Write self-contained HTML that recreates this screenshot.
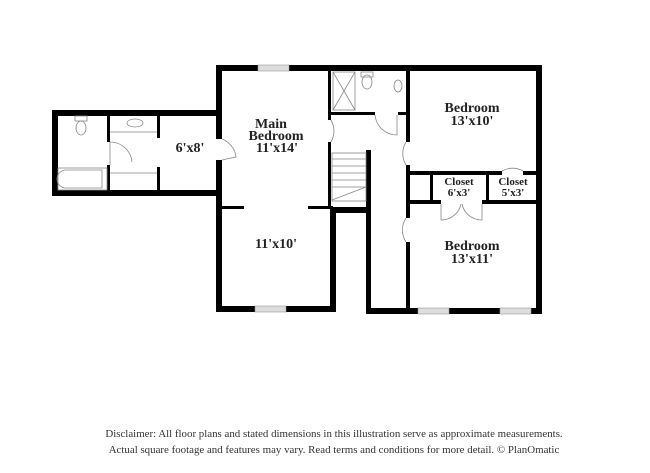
<!DOCTYPE html>
<html><head><style>
body{margin:0;background:#fff;}
svg{display:block}
text{font-family:"Liberation Serif",serif;font-weight:bold;fill:#222;text-anchor:middle}
.f{font-weight:normal;font-size:10.9px;fill:#333}
</style></head><body>
<svg width="650" height="473" viewBox="0 0 650 473" xmlns="http://www.w3.org/2000/svg">
<g fill="#000">
<rect x="52" y="110" width="170" height="6"/>
<rect x="52" y="190" width="170" height="6"/>
<rect x="52" y="110" width="6" height="86"/>
<rect x="107" y="113" width="3" height="29"/>
<rect x="107" y="165" width="3" height="28"/>
<rect x="157" y="113" width="3" height="25"/>
<rect x="157" y="167" width="3" height="26"/>
<rect x="216" y="65" width="326" height="6"/>
<rect x="216" y="65" width="6" height="74"/>
<rect x="216" y="160" width="6" height="152"/>
<rect x="216" y="306" width="120" height="6"/>
<rect x="216" y="206" width="28" height="3"/>
<rect x="308" y="206" width="25" height="3"/>
<rect x="328" y="65" width="3" height="55"/>
<rect x="328" y="142" width="3" height="66"/>
<rect x="330" y="207" width="40" height="6"/>
<rect x="330" y="207" width="6" height="105"/>
<rect x="330" y="112" width="45" height="3"/>
<rect x="398" y="112" width="10" height="3"/>
<rect x="406" y="65" width="4" height="77"/>
<rect x="406" y="165" width="4" height="53"/>
<rect x="406" y="242" width="4" height="70"/>
<rect x="366" y="150" width="5" height="164"/>
<rect x="536" y="65" width="6" height="249"/>
<rect x="366" y="308" width="176" height="6"/>
<rect x="406" y="171" width="96" height="4"/>
<rect x="523" y="171" width="15" height="4"/>
<rect x="406" y="200" width="35" height="4"/>
<rect x="482" y="200" width="56" height="4"/>
<rect x="430" y="171" width="3" height="33"/>
<rect x="486" y="171" width="3" height="33"/>
</g>
<g fill="#ddd" stroke="#999" stroke-width="0.6">
<rect x="258" y="65" width="31" height="6"/>
<rect x="255" y="306" width="31" height="6"/>
<rect x="418" y="308" width="31" height="6"/>
<rect x="500" y="308" width="31" height="6"/>
</g>
<g fill="none" stroke="#888" stroke-width="0.8">
<rect x="58" y="168" width="49" height="22"/>
<path d="M66 170 h36 v18 h-36 a9 9 0 0 1 0 -18z"/>
<ellipse cx="81" cy="128" rx="5" ry="7"/>
<rect x="75" y="116" width="12" height="5"/>
<ellipse cx="135" cy="123" rx="8" ry="4"/>
<line x1="110" y1="132" x2="157" y2="132"/>
<line x1="110" y1="173" x2="157" y2="173"/>
<path d="M110 142 a22 22 0 0 1 22 20 M110 165 L110 142"/>
<path d="M222 139 a22 22 0 0 1 14 18 L222 160"/>
<rect x="333" y="72" width="22" height="38"/>
<path d="M333 72 L355 110 M355 72 L333 110"/>
<ellipse cx="367" cy="82" rx="5" ry="7"/>
<rect x="361" y="72" width="12" height="5"/>
<ellipse cx="398" cy="86" rx="4" ry="6"/>
<path d="M375 115 a22 22 0 0 0 22 20 L397 115"/>
<path d="M331 120 a22 22 0 0 1 0 22"/>
<path d="M406 142 a22 22 0 0 0 0 23"/>
<path d="M406 218 a22 22 0 0 0 0 24"/>
<path d="M502 171 a21 21 0 0 1 21 0"/>
<path d="M441 204 v16 a20 20 0 0 0 20 -16 M482 204 v16 a20 20 0 0 1 -20 -16"/>
<rect x="332" y="153" width="34" height="48"/>
<path d="M332 159h34M332 166h34M332 173h34M332 180h34M332 187h34M332 200 L366 187"/>
</g>
<text x="271" y="128" font-size="14">Main</text>
<text x="276" y="140" font-size="14">Bedroom</text>
<text x="277" y="152" font-size="14">11'x14'</text>
<text x="190" y="152" font-size="14">6'x8'</text>
<text x="276" y="248" font-size="14">11'x10'</text>
<text x="472" y="112" font-size="14">Bedroom</text>
<text x="472" y="125" font-size="14">13'x10'</text>
<text x="459" y="185" font-size="11">Closet</text>
<text x="459" y="196" font-size="11">6'x3'</text>
<text x="513" y="185" font-size="11">Closet</text>
<text x="513" y="196" font-size="11">5'x3'</text>
<text x="472" y="250" font-size="14">Bedroom</text>
<text x="472" y="263" font-size="14">13'x11'</text>
<text class="f" x="334" y="437">Disclaimer: All floor plans and stated dimensions in this illustration serve as approximate measurements.</text>
<text class="f" x="334" y="453">Actual square footage and features may vary. Read terms and conditions for more detail. © PlanOmatic</text>
</svg>
</body></html>
